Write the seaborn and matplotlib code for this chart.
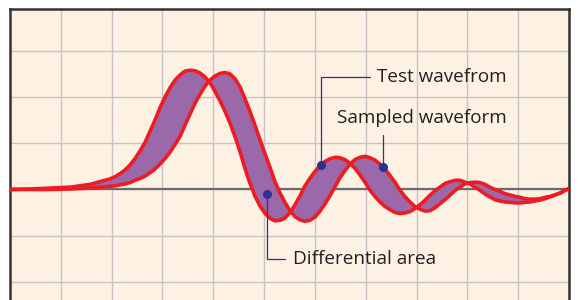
import matplotlib
matplotlib.use("Agg")
import matplotlib.pyplot as plt
import seaborn as sns
import pandas as pd
import numpy as np

# time in grid divisions, amplitude in grid divisions
t = [0.00, 0.39, 0.79, 1.18, 1.57,
     1.97, 2.07, 2.16, 2.26, 2.36, 2.46, 2.56, 2.66, 2.75, 2.85,
     2.95, 3.05, 3.15, 3.25, 3.35, 3.44, 3.54, 3.64, 3.74, 3.84,
     3.94, 4.03, 4.13, 4.23, 4.33, 4.43, 4.53, 4.62, 4.72, 4.82,
     4.92, 5.02, 5.12, 5.21, 5.31, 5.41, 5.51, 5.61, 5.71, 5.80,
     5.90, 6.00, 6.10, 6.20, 6.30, 6.40, 6.49, 6.59, 6.69, 6.79,
     6.89, 6.99, 7.08, 7.18, 7.28, 7.38, 7.48, 7.58, 7.67, 7.77,
     7.87, 7.97, 8.07, 8.17, 8.26, 8.36, 8.46, 8.56, 8.66, 8.76,
     8.85, 8.95, 9.05, 9.15, 9.25, 9.35, 9.44, 9.54, 9.64, 9.74,
     9.84, 9.94, 10.04, 10.13, 10.23, 10.33, 10.43, 10.53, 10.63, 10.72,
     10.82, 10.92, 11.00]

test_wave = [0.00, 0.01, 0.03, 0.05, 0.11,
             0.23, 0.28, 0.34, 0.42, 0.53, 0.67, 0.84, 1.03, 1.25, 1.50,
             1.77, 2.01, 2.21, 2.38, 2.49, 2.57, 2.59, 2.58, 2.53, 2.44,
             2.31, 2.14, 1.93, 1.70, 1.44, 1.14, 0.81, 0.47, 0.14, -0.14,
             -0.36, -0.52, -0.63, -0.68, -0.67, -0.62, -0.50, -0.33, -0.13, 0.07,
             0.24, 0.39, 0.51, 0.61, 0.67, 0.70, 0.69, 0.65, 0.57, 0.46,
             0.31, 0.15, -0.01, -0.15, -0.27, -0.37, -0.44, -0.50, -0.52, -0.51,
             -0.48, -0.41, -0.33, -0.23, -0.13, -0.03, 0.05, 0.13, 0.17, 0.20,
             0.20, 0.16, 0.12, 0.05, -0.02, -0.10, -0.16, -0.22, -0.25, -0.27,
             -0.28, -0.29, -0.29, -0.28, -0.27, -0.25, -0.23, -0.20, -0.16, -0.12,
             -0.08, -0.02, 0.02]

sampled_wave = [0.00, 0.00, 0.00, 0.01, 0.03,
                0.07, 0.08, 0.10, 0.12, 0.15, 0.20, 0.24, 0.29, 0.36, 0.44,
                0.55, 0.67, 0.81, 0.98, 1.16, 1.39, 1.63, 1.87, 2.07, 2.25,
                2.38, 2.46, 2.52, 2.54, 2.51, 2.40, 2.22, 1.98, 1.70, 1.40,
                1.08, 0.77, 0.47, 0.18, -0.07, -0.28, -0.46, -0.59, -0.66, -0.69,
                -0.67, -0.60, -0.47, -0.31, -0.13, 0.07, 0.25, 0.41, 0.55, 0.65,
                0.70, 0.72, 0.69, 0.64, 0.55, 0.44, 0.30, 0.15, -0.01, -0.15,
                -0.27, -0.37, -0.43, -0.47, -0.46, -0.40, -0.31, -0.22, -0.12, -0.02,
                0.05, 0.12, 0.15, 0.16, 0.15, 0.11, 0.05, 0.00, -0.04, -0.09,
                -0.12, -0.15, -0.17, -0.20, -0.21, -0.21, -0.20, -0.17, -0.15, -0.12,
                -0.08, -0.02, 0.02]

x_grid = list(range(1, 11))
y_grid = list(range(-2, 4))

RED = "#ed1c24"
PURPLE = "#9b68aa"
NAVY = "#2e3192"
CREAM = "#fdf1e3"
INK = "#231f20"

sns.set_theme(style="white")
plt.rcParams['font.family'] = ['Open Sans', 'DejaVu Sans']

fig = plt.figure(figsize=(5.84, 3.0), dpi=100)
ax = fig.add_axes([10 / 584, 0, 559 / 584, 291 / 300])
ax.set_facecolor(CREAM)

ax.set_xlim(0, 11)
ax.set_ylim(-2.40, 3.92)
ax.set_xticks(x_grid)
ax.set_yticks(y_grid)
ax.tick_params(length=0, labelbottom=False, labelleft=False)
ax.set_axisbelow(True)
ax.grid(True, color="#c6c4c2", lw=1.0)

# zero line
ax.axhline(0, color="#6b6b6b", lw=1.6, zorder=1)

# differential area between the two waveforms
ax.fill_between(t, test_wave, sampled_wave, color=PURPLE, lw=0, zorder=2)

df = pd.DataFrame({
    "t": t + t,
    "v": test_wave + sampled_wave,
    "wave": ["Test"] * len(t) + ["Sampled"] * len(t),
})
sns.lineplot(data=df, x="t", y="v", hue="wave", palette=[RED, RED],
             lw=2.6, legend=False, ax=ax, zorder=3,
             solid_joinstyle="round", solid_capstyle="round")
ax.set_xlabel("")
ax.set_ylabel("")

for side in ["left", "top", "right"]:
    ax.spines[side].set_color("#333333")
    ax.spines[side].set_linewidth(1.8)
ax.spines["bottom"].set_visible(False)

# annotations
tx = 6.12
ty = np.interp(tx, t, test_wave)
ax.plot([tx, tx, 7.08], [ty, 2.45, 2.45], color=NAVY, lw=0.9, zorder=4)
ax.plot(tx, ty, "o", color=NAVY, ms=5.5, zorder=5)
ax.text(7.22, 2.45, "Test wavefrom", ha="left", va="center",
        fontsize=13.6, color=INK)

sx = 7.34
sy = np.interp(sx, t, sampled_wave)
ax.plot([sx, sx], [sy, 1.18], color=NAVY, lw=0.9, zorder=4)
ax.plot(sx, sy, "o", color=NAVY, ms=5.5, zorder=5)
ax.text(8.11, 1.55, "Sampled waveform", ha="center", va="center",
        fontsize=13.6, color=INK)

dx, dy = 5.06, -0.10
ax.plot([dx, dx, 5.41], [dy, -1.52, -1.52], color=NAVY, lw=0.9, zorder=4)
ax.plot(dx, dy, "o", color=NAVY, ms=5.5, zorder=5)
ax.text(5.57, -1.52, "Differential area", ha="left", va="center",
        fontsize=13.6, color=INK)

fig.savefig("out.png", dpi=100, facecolor="white")
